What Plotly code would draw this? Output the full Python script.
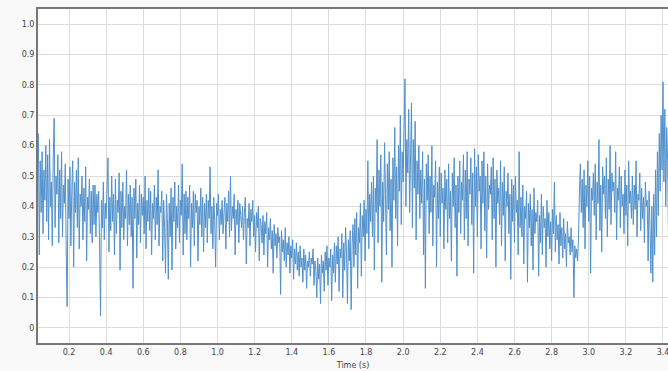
import plotly.graph_objects as go

# Sample times (s): 0.035 s start, 5 ms step
t_start = 0.035
t_step = 0.005

# Signal values in hundredths, one row per 0.1 s
signal_hundredths = [
    64,24,55,38,58,31,52,42,60,35,57,29,62,40,48,27,56,69,33,50,
    44,57,28,52,36,58,30,47,41,54,25,7,49,36,53,27,45,55,20,48,
    38,52,33,56,26,44,40,50,29,46,35,53,22,43,39,49,31,45,28,47,
    34,47,30,44,38,45,26,4,42,33,48,29,41,36,46,56,25,43,32,50,
    35,44,24,49,31,42,38,51,19,45,33,48,29,40,36,52,27,44,34,47,
    30,43,13,46,36,49,23,41,34,47,28,44,37,43,31,50,26,42,35,46,
    32,45,24,41,36,47,29,43,34,52,27,40,38,45,22,42,33,18,44,36,
    16,41,30,46,19,43,35,48,26,40,33,47,28,42,37,54,24,44,31,45,
    29,43,36,47,20,41,33,45,27,44,38,42,22,40,34,46,30,43,25,41,
    33,44,28,42,36,53,31,40,26,43,35,20,41,37,44,29,39,34,42,31,
    38,43,26,41,35,45,30,50,32,40,36,44,24,39,34,42,28,41,37,33,
    40,29,38,43,21,36,33,41,27,39,35,42,30,37,25,38,33,40,22,36,
    34,28,37,24,35,31,38,20,33,29,36,26,32,18,34,27,31,23,33,28,
    30,11,32,25,29,22,33,20,28,24,30,18,27,23,29,16,26,21,28,19,
    25,17,27,20,23,15,26,19,24,13,22,20,25,17,23,21,26,14,22,19,
    10,23,16,21,8,24,18,22,12,25,19,27,14,23,20,26,9,24,18,28,
    15,27,21,30,12,26,23,31,10,28,19,33,25,8,29,22,32,6,27,34,
    20,36,24,38,13,33,28,41,17,37,30,42,22,39,31,55,26,44,35,48,
    30,50,19,46,38,62,28,52,40,57,15,48,35,61,44,24,54,39,58,32,
    49,20,56,42,66,36,53,27,60,45,70,34,58,48,65,82,40,62,51,72,
    38,58,74,33,62,46,68,29,55,44,60,36,52,41,58,24,49,13,54,42,
    57,31,50,38,60,27,47,43,55,20,48,36,53,30,51,41,46,26,52,39,
    49,28,54,36,45,22,51,40,56,33,47,17,50,38,55,31,48,42,57,29,
    52,36,58,27,49,44,56,34,51,18,59,40,53,30,57,45,50,26,55,41,
    58,32,50,23,54,39,47,44,53,29,56,36,49,20,52,41,46,34,55,27,
    48,37,53,22,45,40,51,31,44,16,49,35,47,28,50,38,42,24,58,33,
    43,30,47,21,40,36,45,15,41,33,44,27,39,19,46,31,38,35,42,17,
    37,28,44,24,40,33,36,20,42,30,38,26,35,22,39,31,48,25,37,29,
    34,21,38,27,33,23,36,26,31,20,35,28,30,24,33,25,29,10,27,23,
    26,22,30,45,54,38,49,33,52,26,47,40,55,35,50,18,46,42,51,37,
    54,29,48,41,62,32,47,25,53,44,50,36,56,30,49,39,60,34,51,45,
    48,38,58,29,46,42,53,33,50,40,44,31,52,37,47,27,55,41,45,36,
    50,34,47,39,55,30,44,42,51,32,46,36,43,28,48,40,42,22,45,33,
    18,40,15,44,24,52,30,58,37,64,45,70,52,81,48,72,40,66,55,27,
]

y_tick_vals = [0, 0.1, 0.2, 0.3, 0.4, 0.5, 0.6, 0.7, 0.8, 0.9, 1.0]
y_tick_text = ["0", "0.1", "0.2", "0.3", "0.4", "0.5", "0.6", "0.7", "0.8", "0.9", "1.0"]

times = [t_start + i * t_step for i in range(len(signal_hundredths))]
values = [v / 100 for v in signal_hundredths]

fig = go.Figure(
    go.Scatter(
        x=times, y=values, mode="lines",
        line=dict(color="#5090cc", width=1),
        hoverinfo="x+y",
    )
)

axis_font = dict(family="DejaVu Sans, Arial, sans-serif", size=8, color="#444")

fig.update_layout(
    width=668, height=371,
    margin=dict(l=38, r=0, t=9, b=28, autoexpand=False),
    paper_bgcolor="#f9f9f9",
    plot_bgcolor="#ffffff",
    showlegend=False,
    xaxis=dict(
        range=[0.033, 3.427],
        dtick=0.2, tick0=0, tickformat=".1f",
        showgrid=True, gridcolor="#dcdcdc", gridwidth=1,
        showline=True, linecolor="#777", linewidth=2, mirror=True,
        zeroline=False, ticks="",
        tickfont=axis_font, automargin=False,
        ticklabeloverflow="allow",
        title=dict(text="Time (s)", font=axis_font, standoff=7),
    ),
    yaxis=dict(
        range=[-0.05, 1.05],
        tickvals=y_tick_vals, ticktext=y_tick_text,
        showgrid=True, gridcolor="#dcdcdc", gridwidth=1,
        showline=True, linecolor="#777", linewidth=2,
        zeroline=False, ticks="",
        tickfont=axis_font, automargin=False,
    ),
)

fig.write_html(
    "out.html",
    config={"displayModeBar": False},
    post_script="document.body.style.margin='0';document.body.style.overflow='hidden';",
)
